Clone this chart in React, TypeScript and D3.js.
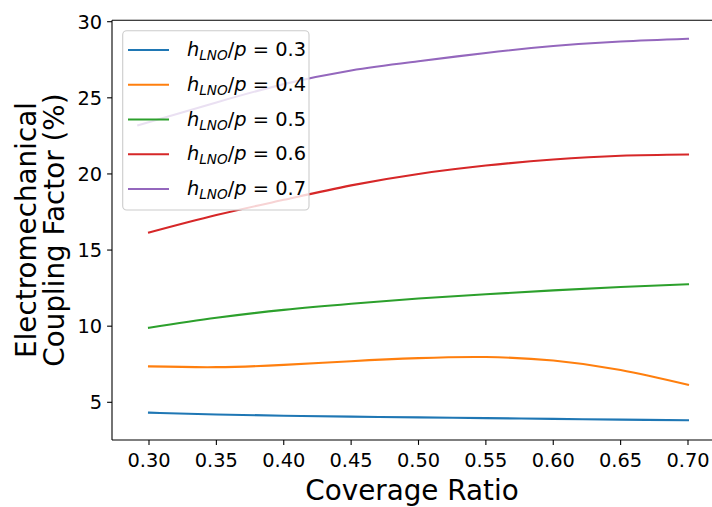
import React from "react";
import * as d3 from "d3";

const coverage = [0.3, 0.35, 0.4, 0.45, 0.5, 0.55, 0.6, 0.65, 0.7];
const coverage07 = [0.292, 0.35, 0.4, 0.45, 0.5, 0.55, 0.6, 0.65, 0.7];
const k03 = [4.32, 4.2, 4.12, 4.06, 4.01, 3.96, 3.91, 3.86, 3.82];
const k04 = [7.36, 7.31, 7.46, 7.7, 7.9, 7.97, 7.74, 7.12, 6.15];
const k05 = [9.9, 10.55, 11.07, 11.47, 11.82, 12.1, 12.35, 12.57, 12.75];
const k06 = [16.15, 17.3, 18.3, 19.25, 20.0, 20.55, 20.95, 21.2, 21.28];
const k07 = [23.2, 24.7, 25.9, 26.8, 27.4, 27.95, 28.4, 28.7, 28.88];
const ratioLabels = ["0.3", "0.4", "0.5", "0.6", "0.7"];
const colors = ["#1f77b4", "#ff7f0e", "#2ca02c", "#d62728", "#9467bd"];
const xTicks = [0.3, 0.35, 0.4, 0.45, 0.5, 0.55, 0.6, 0.65, 0.7];
const yTicks = [5, 10, 15, 20, 25, 30];

const W = 712;
const H = 507;
const left = 112;
const top = 20.3;
const bottom = 440;
const right = 725;

export default function App() {
  const x = d3.scaleLinear().domain([0.3, 0.7]).range([149, 688]);
  const y = d3.scaleLinear().domain([5, 30]).range([402.3, 21.7]);
  const series = [
    { xs: coverage, ys: k03 },
    { xs: coverage, ys: k04 },
    { xs: coverage, ys: k05 },
    { xs: coverage, ys: k06 },
    { xs: coverage07, ys: k07 },
  ];
  const line = d3
    .line<[number, number]>()
    .x((d) => x(d[0]))
    .y((d) => y(d[1]))
    .curve(d3.curveNatural);
  const font = "DejaVu Sans, sans-serif";
  const tickFs = 19.4;
  const labelFs = 27.8;
  const legendX = 122.7;
  const legendY = 30.7;
  const legendW = 186.3;
  const legendH = 179.3;
  const rowGap = 34.75;

  return (
    <svg
      width={W}
      height={H}
      style={{ position: "absolute", left: 0, top: 0, background: "#fff" }}
      fontFamily={font}
    >
      <rect x={0} y={0} width={W} height={H} fill="#fff" />
      <defs>
        <clipPath id="plot">
          <rect x={left} y={top} width={right - left} height={bottom - top} />
        </clipPath>
      </defs>
      <g clipPath="url(#plot)">
        {series.map((s, i) => (
          <path
            key={i}
            d={line(s.xs.map((v, j) => [v, s.ys[j]] as [number, number])) || ""}
            fill="none"
            stroke={colors[i]}
            strokeWidth={2.08}
            strokeLinecap="square"
          />
        ))}
      </g>
      {/* spines */}
      <line x1={left} x2={left} y1={top} y2={bottom} stroke="#000" strokeWidth={1.1} />
      <line x1={left} x2={W} y1={bottom} y2={bottom} stroke="#000" strokeWidth={1.1} />
      <line x1={left} x2={W} y1={top} y2={top} stroke="#000" strokeWidth={1.1} />
      {/* x ticks */}
      {xTicks.map((t) => (
        <g key={t}>
          <line x1={x(t)} x2={x(t)} y1={bottom} y2={bottom + 4.9} stroke="#000" strokeWidth={1.1} />
          <text x={x(t)} y={467} textAnchor="middle" fontSize={tickFs} fill="#000">
            {d3.format(".2f")(t)}
          </text>
        </g>
      ))}
      {/* y ticks */}
      {yTicks.map((t) => (
        <g key={t}>
          <line x1={left - 4.9} x2={left} y1={y(t)} y2={y(t)} stroke="#000" strokeWidth={1.1} />
          <text x={left - 9.8} y={y(t) + 7} textAnchor="end" fontSize={tickFs} fill="#000">
            {t}
          </text>
        </g>
      ))}
      <text x={412} y={500} textAnchor="middle" fontSize={labelFs} fill="#000">
        Coverage Ratio
      </text>
      <text transform="translate(35.5,230) rotate(-90)" textAnchor="middle" fontSize={labelFs} fill="#000">
        Electromechanical
      </text>
      <text transform="translate(63.5,230) rotate(-90)" textAnchor="middle" fontSize={labelFs} fill="#000">
        Coupling Factor (%)
      </text>
      {/* legend */}
      <rect
        x={legendX}
        y={legendY}
        width={legendW}
        height={legendH}
        rx={4}
        ry={4}
        fill="#fff"
        fillOpacity={0.8}
        stroke="#cccccc"
        strokeWidth={1.1}
      />
      {ratioLabels.map((r, i) => {
        const cy = 50 + i * rowGap;
        return (
          <g key={r}>
            <line x1={128} x2={169} y1={cy} y2={cy} stroke={colors[i]} strokeWidth={2.08} />
            <text x={187} y={cy + 6} fontSize={tickFs} fill="#000">
              <tspan fontStyle="italic">h</tspan>
              <tspan fontStyle="italic" fontSize={tickFs * 0.7} dy={4}>
                LNO
              </tspan>
              <tspan dy={-4}>/</tspan>
              <tspan fontStyle="italic">p</tspan>
              <tspan> = {r}</tspan>
            </text>
          </g>
        );
      })}
    </svg>
  );
}
